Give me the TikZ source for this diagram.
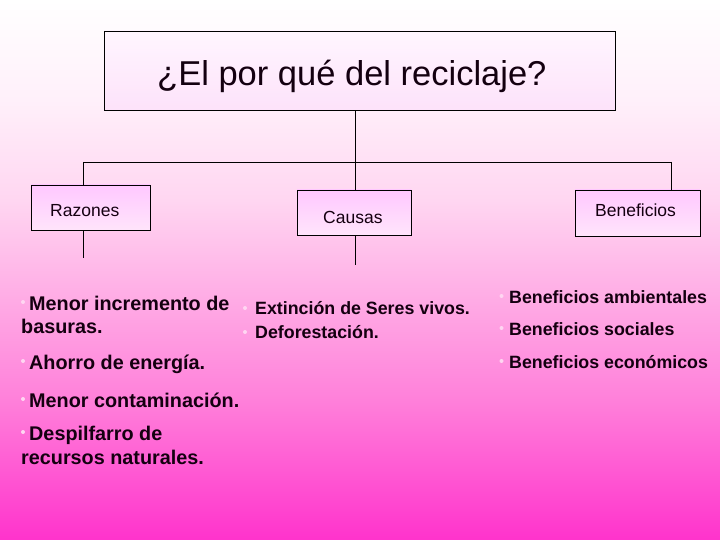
\documentclass[tikz,border=0pt]{standalone}
\usepackage{fontspec}
\setmainfont{Liberation Sans}
\definecolor{bgA}{HTML}{FF33CC}
\definecolor{bgB}{HTML}{FF80DA}
\definecolor{bgC}{HTML}{FFABE5}
\definecolor{bgD}{HTML}{FFD6F1}
\definecolor{bgE}{HTML}{FFF0FA}
\definecolor{boxtop}{HTML}{FFC8FF}
\definecolor{boxbot}{HTML}{FFE4FB}
\definecolor{ttop}{HTML}{FFF6FF}
\definecolor{tbot}{HTML}{FDE2FA}
\definecolor{dotc}{HTML}{FFD6F2}
\definecolor{ink}{HTML}{140010}
\pgfdeclareverticalshading{bgshade}{100bp}{color(0bp)=(bgA); color(25bp)=(bgA); color(37.96bp)=(bgB); color(47.22bp)=(bgC); color(56.48bp)=(bgD); color(65.74bp)=(bgE); color(75bp)=(white); color(100bp)=(white)}
\begin{document}
\begin{tikzpicture}[x=1pt,y=-1pt,
  box/.style={draw=black, line width=0.9pt, top color=boxtop, bottom color=boxbot, inner sep=0pt},
  tbox/.style={draw=black, line width=0.9pt, top color=ttop, bottom color=tbot, inner sep=0pt},
  lbl/.style={anchor=base west, inner sep=0pt, text=ink, font=\fontsize{17.5}{21}\selectfont},
  itemL/.style={anchor=base west, inner sep=0pt, text=ink, font=\fontsize{19.8}{23}\selectfont\bfseries},
  itemR/.style={anchor=base west, inner sep=0pt, text=ink, font=\fontsize{17.8}{21}\selectfont\bfseries},
  dotn/.style={circle, fill=dotc, inner sep=0pt, minimum size=4pt},
  conn/.style={draw=black, line width=0.9pt}]
\useasboundingbox (0,0) rectangle (720,540);
\fill[shading=bgshade] (0,0) rectangle (720,540);

% boxes
\node[tbox, minimum width=511pt, minimum height=79pt] (title) at (359.5,70.5) {};
\node[box, minimum width=119pt, minimum height=45pt] (raz) at (90.5,207.5) {};
\node[box, minimum width=114pt, minimum height=45pt] (cau) at (354,212.5) {};
\node[box, minimum width=125pt, minimum height=46pt] (ben) at (637.5,213) {};

% labels
\node[anchor=base west, inner sep=0pt, text=ink, font=\fontsize{34.5}{41}\selectfont] (ttl) at (157,86) {¿El por qué del reciclaje?};
\node[lbl] (razl) at (50,217) {Razones};
\node[lbl] (caul) at (323,223) {Causas};
\node[lbl] (benl) at (595,217) {Beneficios};

% connectors
\coordinate (hm) at (355,162);
\coordinate (hl) at (83,162);
\coordinate (hr) at (671,162);
\coordinate (rend) at (83,258);
\coordinate (cend) at (355,265);
\draw[conn] (title.south -| hm) -- (hm);
\draw[conn] (hl) -- (hr);
\draw[conn] (hl) -- (hl |- raz.north);
\draw[conn] (hm) -- (hm |- cau.north);
\draw[conn] (hr) -- (hr |- ben.north);
\draw[conn] (rend |- raz.south) -- (rend);
\draw[conn] (cend |- cau.south) -- (cend);

% left list
\node[dotn] (d1) at (23,302) {};
\node[itemL] (l1) at (29,310) {Menor incremento de};
\node[itemL] (l1b) at (21,333) {basuras.};
\node[dotn] (d2) at (23,361) {};
\node[itemL] (l2) at (29,369) {Ahorro de energía.};
\node[dotn] (d3) at (23,399) {};
\node[itemL] (l3) at (29,407) {Menor contaminación.};
\node[dotn] (d4) at (23,432) {};
\node[itemL] (l4) at (29,440) {Despilfarro de};
\node[itemL] (l4b) at (21,464) {recursos naturales.};

% middle list
\node[dotn] (m1d) at (245,308) {};
\node[itemR] (m1) at (255,314) {Extinción de Seres vivos.};
\node[dotn] (m2d) at (245,332) {};
\node[itemR] (m2) at (255,338) {Deforestación.};

% right list
\node[dotn] (r1d) at (501.5,296) {};
\node[itemR] (r1) at (509,303) {Beneficios ambientales};
\node[dotn] (r2d) at (501.5,328) {};
\node[itemR] (r2) at (509,335) {Beneficios sociales};
\node[dotn] (r3d) at (501.5,361) {};
\node[itemR] (r3) at (509,368) {Beneficios económicos};
\end{tikzpicture}
\end{document}
